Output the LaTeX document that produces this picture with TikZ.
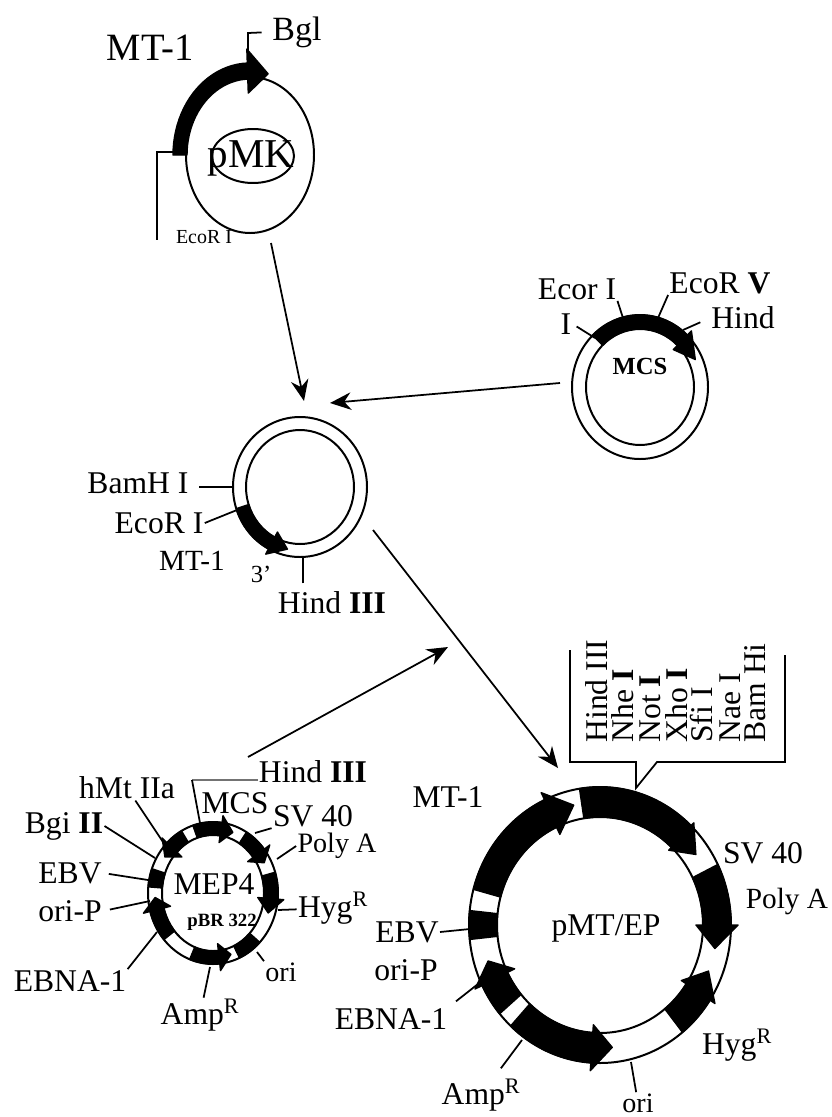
\documentclass[tikz,border=0pt]{standalone}
\usepackage{fontspec}
\setmainfont{Liberation Serif}
\usetikzlibrary{arrows.meta,positioning}
\tikzset{
  lab/.style={font=\fontsize{27}{29}\selectfont, inner sep=1pt},
  labbig/.style={font=\fontsize{33}{35}\selectfont, inner sep=1pt},
  labsm/.style={font=\fontsize{24}{26}\selectfont, inner sep=1pt},
  labtiny/.style={font=\fontsize{17}{19}\selectfont, inner sep=1pt},
  ringline/.style={line width=1.7pt, black},
  leader/.style={line width=1.5pt, black},
  blockfill/.style={fill=black, draw=black, line width=1.2pt, line join=round},
  bigarrow/.style={-{Stealth[length=18pt,width=15pt]}, line width=1.5pt, black}
}
% ring size of the current plasmid: outer rx, ry, inner rx, ry
\newcommand{\ringsize}[4]{\def\rxo{#1}\def\ryo{#2}\def\rxi{#3}\def\ryi{#4}
  \draw[ringline] (0,0) ellipse [x radius=#1, y radius=#2];
  \draw[ringline] (0,0) ellipse [x radius=#3, y radius=#4];}
% black block on the ring, from angle to angle
\newcommand{\ringblock}[2]{\path[blockfill] plot[domain=#1:#2,samples=24] (\x:{\rxo} and {\ryo})
  -- plot[domain=#2:#1,samples=24] (\x:{\rxi} and {\ryi}) -- cycle;}
% black block with a head: from, base of head, tip, barb
\newcommand{\ringarrow}[4]{\path[blockfill] plot[domain=#1:#2,samples=24] (\x:{\rxo} and {\ryo})
  -- (#2:{\rxo+#4} and {\ryo+#4}) -- (#3:{(\rxo+\rxi)/2} and {(\ryo+\ryi)/2}) -- (#2:{\rxi-#4} and {\ryi-#4})
  -- plot[domain=#2:#1,samples=24] (\x:{\rxi} and {\ryi}) -- cycle;}

\begin{document}
\begin{tikzpicture}[x=0.03cm,y=-0.03cm]
  \useasboundingbox (0,0) rectangle (831,1117);

  %--- pMK ---
  \begin{scope}[shift={(250,155)}]
    \draw[ringline] (0,0) ellipse [x radius=64, y radius=78];
    \def\rxo{77}\def\ryo{92}\def\rxi{63}\def\ryi{76}
    \ringarrow{180}{268}{285}{14}
  \end{scope}
  \draw[ringline] (253,156) ellipse [x radius=41, y radius=27];
  \node[labbig, font=\fontsize{35}{37}\selectfont] (pmk) at (251,158) {pMK};
  \node[labbig] (mtone) at (150,48) {MT-1};
  \node[labbig, font=\fontsize{29}{31}\selectfont] (bgl) at (297,32) {Bgl};
  \node[labtiny] (ecortop) at (204,237) {EcoR I};
  \coordinate (bgla) at (248,33);
  \coordinate (bglb) at (248,53);
  \coordinate (ecoa) at (157,152);
  \coordinate (ecob) at (183,152);
  \coordinate (ecoc) at (157,240);
  \draw[leader, shorten <=8pt] (bgl.west) -- (bgla) -- (bglb);
  \draw[leader] (ecob) -- (ecoa) -- (ecoc);

  %--- MCS ring ---
  \begin{scope}[shift={(640,387)}]
    \ringsize{68}{72}{54}{58}
    \ringarrow{226}{314}{335}{6}
  \end{scope}
  \node[labsm, font=\bfseries\fontsize{21}{23}\selectfont] (mcs) at (640,366) {MCS};
  \node[lab] (ecorI) at (577,289) {Ecor I};
  \node[lab] (justI) at (566,324) {I};
  \node[lab] (ecorV) at (720,283) {EcoR \textbf{V}};
  \node[lab] (hindtop) at (743,318) {Hind};
  \coordinate (ecorIend) at (623,318);
  \coordinate (justIend) at (595,338);
  \coordinate (ecorVend) at (658,318);
  \coordinate (hindend) at (683,330);
  \draw[leader] (ecorI.south east) -- (ecorIend);
  \draw[leader, shorten <=4pt] (justI.east) -- (justIend);
  \draw[leader] (ecorV.south west) -- (ecorVend);
  \draw[leader, shorten <=9pt] (hindtop.west) -- (hindend);

  %--- middle ring ---
  \begin{scope}[shift={(300,487)}]
    \ringsize{67}{70}{54}{57}
    \ringarrow{162}{118}{102}{6}
  \end{scope}
  \node[lab] (bamh) at (138,483) {BamH I};
  \node[lab] (ecormid) at (159,523) {EcoR I};
  \node[lab, font=\fontsize{25}{27}\selectfont] (mtmid) at (192,561) {MT-1};
  \node[labtiny, font=\fontsize{21}{23}\selectfont] (three) at (261,574) {3'};
  \node[lab] (hindmid) at (332,603) {Hind \textbf{III}};
  \coordinate (bamhend) at (233,487);
  \coordinate (ecormidend) at (237,510);
  \coordinate (hindmidend) at (303,557);
  \draw[leader, line width=2pt, shorten <=8pt] (bamh.east |- bamhend) -- (bamhend);
  \draw[leader] (ecormid.east) -- (ecormidend);
  \draw[leader, shorten <=6pt] (hindmid.north -| hindmidend) -- (hindmidend);

  %--- MEP4 ---
  \begin{scope}[shift={(213,893)}]
    \ringsize{65}{71}{51}{58}
    \ringarrow{252}{278}{290}{7}
    \ringarrow{301}{322}{332}{7}
    \ringarrow{343}{365}{378}{6}
    \ringblock{44}{66}
    \ringarrow{111}{84}{72}{7}
    \ringarrow{139}{165}{176}{7}
    \ringblock{185}{200}
    \ringarrow{241}{225}{214}{7}
  \end{scope}
  \node[lab] (mep) at (214,884) {MEP4};
  \node[labtiny, font=\bfseries\fontsize{16}{18}\selectfont] (pbr) at (222,922) {pBR 322};
  \node[lab] (hindmep) at (313,772) {Hind \textbf{III}};
  \node[lab] (hmt) at (127,788) {hMt IIa};
  \node[lab] (mcsmep) at (235,803) {MCS};
  \node[lab] (svmep) at (313,816) {SV 40};
  \node[lab] (bgi) at (64,826) {Bgi \textbf{II}};
  \node[labsm] (polymep) at (337,846) {Poly A};
  \node[lab] (ebvmep) at (70,873) {EBV};
  \node[lab] (oripmep) at (70,911) {ori-P};
  \node[lab] (hygmep) at (333,908) {Hyg\textsuperscript{R}};
  \node[lab] (ebnamep) at (70,981) {EBNA-1};
  \node[labsm] (orimep) at (281,972) {ori};
  \node[lab] (ampmep) at (200,1015) {Amp\textsuperscript{R}};
  \coordinate (hindmepa) at (192,780);
  \coordinate (hindmepb) at (200,823);
  \coordinate (hmtend) at (163,842);
  \coordinate (svmepend) at (255,833);
  \coordinate (bgiend) at (155,858);
  \coordinate (polymepend) at (277,859);
  \coordinate (ebvmepend) at (148,880);
  \coordinate (oripmepend) at (150,901);
  \coordinate (hygmepend) at (278,910);
  \coordinate (ebnamepend) at (157,932);
  \coordinate (orimepend) at (257,952);
  \coordinate (ampmepend) at (210,967);
  \draw[line width=1.7pt, black!55] (hindmep.west |- hindmepa) -- (hindmepa);
  \draw[leader] (hindmepa) -- (hindmepb);
  \draw[leader] (hmt) -- (hmtend);
  \draw[leader] (svmep.south west) -- (svmepend);
  \draw[leader] (bgi.east) -- (bgiend);
  \draw[leader] (polymep.west) -- (polymepend);
  \draw[leader, shorten <=5pt] (ebvmep.east) -- (ebvmepend);
  \draw[leader, shorten <=6pt] (oripmep.east) -- (oripmepend);
  \draw[leader] (hygmep) -- (hygmepend);
  \draw[leader] (ebnamep.north east) -- (ebnamepend);
  \draw[leader] (orimep.north west) -- (orimepend);
  \draw[leader] (ampmep) -- (ampmepend);

  %--- pMT/EP ---
  \begin{scope}[shift={(600,925)}]
    \ringsize{131}{138}{103}{108}
    \ringarrow{261}{314}{325}{4}
    \ringarrow{334}{360}{371}{7}
    \ringarrow{51}{33}{22}{6}
    \ringarrow{133}{94}{84}{8}
    \ringarrow{140}{154}{163}{8}
    \ringblock{174}{186}
    \ringarrow{195}{245}{257}{8}
  \end{scope}
  \node[labbig, font=\fontsize{27}{29}\selectfont] (pmt) at (606,928) {pMT/EP};
  \node[lab] (mtbig) at (448,797) {MT-1};
  \node[lab] (svbig) at (763,853) {SV 40};
  \node[lab, font=\fontsize{25}{27}\selectfont] (polybig) at (787,901) {Poly A};
  \node[lab] (ebvbig) at (407,932) {EBV};
  \node[lab] (oripbig) at (406,970) {ori-P};
  \node[lab] (ebnabig) at (391,1019) {EBNA-1};
  \node[lab] (hygbig) at (737,1045) {Hyg\textsuperscript{R}};
  \node[lab] (ampbig) at (481,1095) {Amp\textsuperscript{R}};
  \node[labsm] (oribig) at (638,1103) {ori};
  \coordinate (ebvbigend) at (470,929);
  \coordinate (ebnabigend) at (478,984);
  \coordinate (ampbigend) at (522,1040);
  \coordinate (oribigend) at (631,1062);
  \draw[leader] (ebvbig.east) -- (ebvbigend);
  \draw[leader, shorten <=8pt] (ebnabig.north east) -- (ebnabigend);
  \draw[leader, shorten <=10pt] (ampbig) -- (ampbigend);
  \draw[leader] (oribig) -- (oribigend);

  % Callout with the sites
  \node[lab, rotate=90, anchor=west] (hsite) at (597,744) {Hind III};
  \node[lab, rotate=90, anchor=west] (nhe) at (623,744) {Nhe \textbf{I}};
  \node[lab, rotate=90, anchor=west] (notI) at (650,744) {Not \textbf{I}};
  \node[lab, rotate=90, anchor=west] (xho) at (677,744) {Xho \textbf{I}};
  \node[lab, rotate=90, anchor=west] (sfi) at (702,744) {Sfi I};
  \node[lab, rotate=90, anchor=west] (nae) at (730,744) {Nae I};
  \node[lab, rotate=90, anchor=west] (bamsite) at (755,744) {Bam Hi};
  \coordinate (calla) at (570,650);
  \coordinate (callb) at (570,762);
  \coordinate (callc) at (636,762);
  \coordinate (calld) at (636,788);
  \coordinate (calle) at (657,762);
  \coordinate (callf) at (785,762);
  \coordinate (callg) at (785,655);
  \draw[leader] (calla) -- (callb) -- (callc) -- (calld) -- (calle) -- (callf) -- (callg);

  %--- big arrows ---
  \coordinate (pmkout) at (271,243);
  \coordinate (midin) at (304,401);
  \coordinate (mcsout) at (560,383);
  \coordinate (midinb) at (330,403);
  \coordinate (midout) at (373,530);
  \coordinate (pmtin) at (558,768);
  \coordinate (mepout) at (248,757);
  \coordinate (midoutb) at (448,647);
  \draw[bigarrow] (pmkout) -- (midin);
  \draw[bigarrow] (mcsout) -- (midinb);
  \draw[bigarrow] (midout) -- (pmtin);
  \draw[bigarrow] (mepout) -- (midoutb);
\end{tikzpicture}
\end{document}
